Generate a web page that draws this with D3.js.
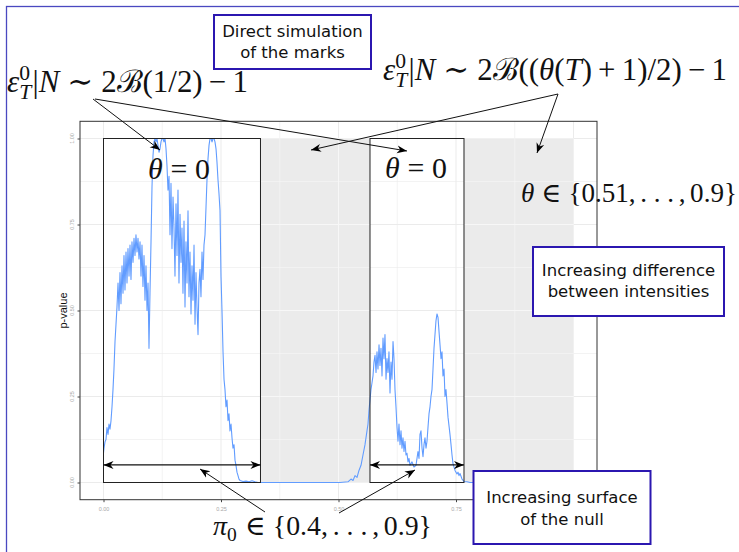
<!DOCTYPE html>
<html>
<head>
<meta charset="utf-8">
<script src="https://cdn.jsdelivr.net/npm/d3@7"></script>
<style>
  body { margin: 0; background: #fff; }
  svg { display: block; }
</style>
</head>
<body>
<svg id="chart" width="739" height="552"></svg>
<script>
// p-value of the test along the scanned position: [position, p-value]
const pvalue = [
  [0, 0.086], [0.0011, 0.10], [0.0032, 0.118], [0.0053, 0.125], [0.0074, 0.16], [0.0096, 0.14],
  [0.0117, 0.17], [0.0138, 0.155], [0.0160, 0.18], [0.0181, 0.22], [0.0202, 0.27], [0.0223, 0.33],
  [0.0245, 0.41], [0.0266, 0.46], [0.0287, 0.51], [0.0309, 0.58], [0.0330, 0.50], [0.0351, 0.61],
  [0.0372, 0.52], [0.0394, 0.63], [0.0415, 0.55], [0.0436, 0.66], [0.0457, 0.56], [0.0479, 0.67],
  [0.0500, 0.58], [0.0521, 0.68], [0.0543, 0.60], [0.0564, 0.69], [0.0585, 0.59], [0.0606, 0.70],
  [0.0628, 0.64], [0.0649, 0.71], [0.0670, 0.66], [0.0691, 0.72], [0.0713, 0.67], [0.0734, 0.71],
  [0.0755, 0.65], [0.0777, 0.70], [0.0798, 0.60], [0.0819, 0.69], [0.0840, 0.57], [0.0862, 0.66],
  [0.0883, 0.53], [0.0904, 0.63], [0.0926, 0.50], [0.0947, 0.58], [0.0968, 0.39], [0.0989, 0.55],
  [0.1011, 0.70], [0.1032, 0.86], [0.1053, 0.95], [0.1074, 0.99], [0.1096, 1.0], [0.1117, 0.99],
  [0.1138, 1.0], [0.1160, 0.98], [0.1181, 0.96], [0.1202, 0.97], [0.1223, 0.99], [0.1245, 1.0],
  [0.1266, 1.0], [0.1287, 0.99], [0.1309, 1.0], [0.1330, 0.97], [0.1351, 0.92], [0.1372, 0.85],
  [0.1394, 0.89], [0.1415, 0.72], [0.1436, 0.87], [0.1457, 0.68], [0.1479, 0.83], [0.1500, 0.74],
  [0.1521, 0.60], [0.1543, 0.81], [0.1564, 0.66], [0.1585, 0.85], [0.1606, 0.58], [0.1628, 0.78],
  [0.1649, 0.64], [0.1670, 0.74], [0.1691, 0.55], [0.1713, 0.76], [0.1734, 0.51], [0.1755, 0.70],
  [0.1777, 0.58], [0.1798, 0.79], [0.1819, 0.54], [0.1840, 0.67], [0.1862, 0.49], [0.1883, 0.63],
  [0.1904, 0.53], [0.1926, 0.69], [0.1947, 0.46], [0.1968, 0.61], [0.1989, 0.51], [0.2011, 0.43],
  [0.2032, 0.58], [0.2053, 0.62], [0.2074, 0.54], [0.2096, 0.67], [0.2117, 0.59], [0.2138, 0.69],
  [0.2160, 0.72], [0.2181, 0.80], [0.2202, 0.88], [0.2223, 0.94], [0.2245, 0.98], [0.2266, 1.0],
  [0.2287, 1.0], [0.2309, 0.99], [0.2330, 1.0], [0.2351, 1.0], [0.2372, 0.99], [0.2394, 0.97],
  [0.2415, 0.93], [0.2436, 0.88], [0.2457, 0.84], [0.2479, 0.79], [0.2500, 0.60], [0.2521, 0.50],
  [0.2543, 0.38], [0.2564, 0.30], [0.2585, 0.27], [0.2606, 0.22], [0.2628, 0.24], [0.2649, 0.18],
  [0.2670, 0.20], [0.2691, 0.15], [0.2713, 0.17], [0.2734, 0.13], [0.2755, 0.10], [0.2777, 0.11],
  [0.2798, 0.065], [0.2819, 0.05], [0.2840, 0.03], [0.2862, 0.02], [0.2883, 0.01], [0.2904, 0.006],
  [0.2968, 0.003], [0.3032, 0.004], [0.3096, 0.002], [0.3160, 0.005], [0.3223, 0.002], [0.3287, 0.0],
  [0.5032, 0.0], [0.5202, 0.002], [0.5266, 0.01], [0.5309, 0.006], [0.5351, 0.02], [0.5394, 0.015],
  [0.5436, 0.035], [0.5479, 0.05], [0.5521, 0.08], [0.5564, 0.11], [0.5606, 0.15], [0.5628, 0.17],
  [0.5649, 0.21], [0.5670, 0.24], [0.5691, 0.27], [0.5713, 0.29], [0.5734, 0.31], [0.5755, 0.35],
  [0.5777, 0.37], [0.5798, 0.32], [0.5819, 0.38], [0.5840, 0.33], [0.5862, 0.40], [0.5883, 0.34],
  [0.5904, 0.39], [0.5926, 0.31], [0.5947, 0.42], [0.5968, 0.36], [0.5989, 0.43], [0.6011, 0.30],
  [0.6032, 0.36], [0.6053, 0.32], [0.6074, 0.38], [0.6096, 0.26], [0.6117, 0.35], [0.6138, 0.30],
  [0.6160, 0.41], [0.6181, 0.36], [0.6202, 0.27], [0.6223, 0.22], [0.6245, 0.16], [0.6266, 0.12],
  [0.6287, 0.17], [0.6309, 0.11], [0.6330, 0.15], [0.6351, 0.10], [0.6372, 0.13], [0.6394, 0.09],
  [0.6415, 0.12], [0.6436, 0.08], [0.6457, 0.085], [0.6479, 0.06], [0.6500, 0.07], [0.6521, 0.05],
  [0.6564, 0.06], [0.6606, 0.045], [0.6649, 0.05], [0.6691, 0.09], [0.6713, 0.07], [0.6734, 0.14],
  [0.6755, 0.15], [0.6777, 0.10], [0.6798, 0.075], [0.6819, 0.11], [0.6840, 0.13], [0.6862, 0.10],
  [0.6883, 0.12], [0.6904, 0.16], [0.6926, 0.20], [0.6947, 0.22], [0.6968, 0.25], [0.6989, 0.27],
  [0.7011, 0.33], [0.7032, 0.39], [0.7053, 0.43], [0.7074, 0.47], [0.7096, 0.49], [0.7117, 0.48],
  [0.7138, 0.44], [0.7160, 0.40], [0.7181, 0.36], [0.7202, 0.38], [0.7223, 0.31], [0.7245, 0.33],
  [0.7266, 0.25], [0.7287, 0.27], [0.7309, 0.23], [0.7330, 0.19], [0.7372, 0.14], [0.7394, 0.11],
  [0.7415, 0.08], [0.7436, 0.055], [0.7479, 0.035], [0.7521, 0.025], [0.7543, 0.03], [0.7564, 0.02],
  [0.7585, 0.026], [0.7628, 0.01], [0.7670, 0.003], [0.7734, 0.002], [0.7798, 0.0], [1.0, 0.0]
];

// windows where the marks follow the null (theta = 0)
const nullIntervals = [[0, 0.334], [0.567, 0.767]];
// height at which the pi0 span arrows are drawn
const spanLevel = 0.051;

const majorTicks = [0, 0.25, 0.5, 0.75, 1];
const minorTicks = [0.125, 0.375, 0.625, 0.875];
const xTickLabels = ["0.00", "0.25", "0.50", "0.75", "1.00"];
const yTickLabels = ["0.00", "0.25", "0.50", "0.75", "1.00"];
const yTitle = "p-value";

const noteSimulation = ["Direct simulation", "of the marks"];
const noteDifference = ["Increasing difference", "between intensities"];
const noteSurface = ["Increasing surface", "of the null"];

const svg = d3.select("#chart");
const W = 739, H = 552;

svg.append("rect").attr("width", W).attr("height", H).attr("fill", "#fff");
// slide frame
svg.append("rect").attr("x", 6.5).attr("y", 6.5).attr("width", 800).attr("height", 700)
  .attr("fill", "none").attr("stroke", "#4a48c0").attr("stroke-width", 1.3);

const defs = svg.append("defs");
defs.append("marker")
  .attr("id", "head").attr("markerUnits", "userSpaceOnUse")
  .attr("markerWidth", 12).attr("markerHeight", 10)
  .attr("refX", 10).attr("refY", 5).attr("orient", "auto-start-reverse")
  .append("path").attr("d", "M0,1 L10,5 L0,9 L3,5 Z").attr("fill", "#000");

// panel
const P = { left: 80, right: 597, top: 121.3, bottom: 499.7 };
const x = d3.scaleLinear().domain([-0.05, 1.05]).range([P.left, P.right]);
const y = d3.scaleLinear().domain([-0.05, 1.05]).range([P.bottom, P.top]);

const panel = svg.append("g");
panel.append("rect").attr("x", P.left).attr("y", P.top)
  .attr("width", P.right - P.left).attr("height", P.bottom - P.top).attr("fill", "#fff");

// shaded region (theta > 0 outside the null windows)
panel.append("rect")
  .attr("x", x(0)).attr("y", y(1)).attr("width", x(1) - x(0)).attr("height", y(0) - y(1))
  .attr("fill", "#ebebeb");
panel.selectAll("rect.nullbg").data(nullIntervals).join("rect").attr("class", "nullbg")
  .attr("x", d => x(d[0])).attr("y", y(1))
  .attr("width", d => x(d[1]) - x(d[0])).attr("height", y(0) - y(1))
  .attr("fill", "#fff");

// clip of the shaded part, where grid lines show lighter
const shaded = [[nullIntervals[0][1], nullIntervals[1][0]], [nullIntervals[1][1], 1]];
const clipShade = defs.append("clipPath").attr("id", "shade");
clipShade.selectAll("rect").data(shaded).join("rect")
  .attr("x", d => x(d[0])).attr("y", y(1))
  .attr("width", d => x(d[1]) - x(d[0])).attr("height", y(0) - y(1));

const gridVals = majorTicks.concat(minorTicks);
function drawGrid(g, colour) {
  g.selectAll("line.v").data(gridVals).join("line").attr("class", "v")
    .attr("x1", d => x(d)).attr("x2", d => x(d)).attr("y1", P.top).attr("y2", P.bottom)
    .attr("stroke", colour).attr("stroke-width", d => minorTicks.includes(d) ? 0.6 : 1);
  g.selectAll("line.h").data(gridVals).join("line").attr("class", "h")
    .attr("y1", d => y(d)).attr("y2", d => y(d)).attr("x1", P.left).attr("x2", P.right)
    .attr("stroke", colour).attr("stroke-width", d => minorTicks.includes(d) ? 0.6 : 1);
}
drawGrid(panel.append("g"), "#ebebeb");
drawGrid(panel.append("g").attr("clip-path", "url(#shade)"), "#f7f7f7");

// p-value curve
panel.append("path").datum(pvalue)
  .attr("d", d3.line().x(d => x(d[0])).y(d => y(d[1])))
  .attr("fill", "none").attr("stroke", "#619cff").attr("stroke-width", 1.1)
  .attr("stroke-linejoin", "round");

// null windows outlines
panel.selectAll("rect.nullbox").data(nullIntervals).join("rect").attr("class", "nullbox")
  .attr("x", d => x(d[0])).attr("y", y(1))
  .attr("width", d => x(d[1]) - x(d[0])).attr("height", y(0) - y(1))
  .attr("fill", "none").attr("stroke", "#222").attr("stroke-width", 1);

// panel border
panel.append("rect").attr("x", P.left).attr("y", P.top)
  .attr("width", P.right - P.left).attr("height", P.bottom - P.top)
  .attr("fill", "none").attr("stroke", "#333").attr("stroke-width", 1);

// axes
const xAxis = panel.append("g").attr("transform", `translate(0,${P.bottom})`)
  .call(d3.axisBottom(x).tickValues(majorTicks).tickSize(2.5).tickPadding(5)
    .tickFormat((d, i) => xTickLabels[i]));
xAxis.select(".domain").remove();
xAxis.selectAll("line").attr("stroke", "#444");
xAxis.selectAll("text").attr("fill", "#a8a8a8").style("font", "5.5px 'Liberation Sans', Arial, sans-serif");

const yAxis = panel.append("g").attr("transform", `translate(${P.left},0)`)
  .call(d3.axisLeft(y).tickValues(majorTicks).tickSize(2.5).tickFormat(""));
yAxis.select(".domain").remove();
yAxis.selectAll("line").attr("stroke", "#444");
panel.selectAll("text.ytl").data(majorTicks).join("text").attr("class", "ytl")
  .attr("transform", d => `translate(72,${y(d)}) rotate(-90)`)
  .attr("text-anchor", "middle").attr("dy", "0.35em")
  .attr("fill", "#a8a8a8").style("font", "5.5px 'Liberation Sans', Arial, sans-serif")
  .text((d, i) => yTickLabels[i]);

panel.append("text")
  .attr("transform", `translate(63.5,${(P.top + P.bottom) / 2}) rotate(-90)`)
  .attr("text-anchor", "middle").attr("dy", "0.35em")
  .attr("fill", "#111").style("font", "11px 'Liberation Sans', Arial, sans-serif")
  .text(yTitle);

// annotations
const ann = svg.append("g");
function arrow(x1, y1, x2, y2, both) {
  const l = ann.append("line").attr("x1", x1).attr("y1", y1).attr("x2", x2).attr("y2", y2)
    .attr("stroke", "#111").attr("stroke-width", 1).attr("marker-end", "url(#head)");
  if (both) l.attr("marker-start", "url(#head)");
  return l;
}
// pi0 spans
nullIntervals.forEach(d => arrow(x(d[0]), y(spanLevel), x(d[1]), y(spanLevel), true).attr("stroke-width", 1.2));
// from the formulas
arrow(93, 99, 160, 150);
arrow(95, 99, 407, 151);
arrow(558, 94, 311, 150);
arrow(558, 94, 537, 153);
// from pi0
arrow(265, 512, 200, 469);
arrow(339, 513, 415, 470);

// maths set in a serif face, scaled to a given width
function math(x0, base, width, parts) {
  const size = 24;
  const g = ann.append("g").style("font-family", "'Liberation Serif', 'DejaVu Serif', serif").attr("fill", "#111");
  let cx = 0;
  parts.forEach(p => {
    if (p.gap !== undefined) { cx += p.gap * size; return; }
    if (p.sup !== undefined || p.sub !== undefined) {
      const s = size * 0.7;
      let w = 0;
      if (p.sup !== undefined) {
        const a = g.append("text").attr("x", cx).attr("y", -0.38 * size).style("font-size", s + "px").text(p.sup);
        w = Math.max(w, a.node().getComputedTextLength());
      }
      if (p.sub !== undefined) {
        const b = g.append("text").attr("x", cx).attr("y", 0.22 * size).style("font-size", s + "px")
          .attr("font-style", p.subI ? "italic" : "normal").text(p.sub);
        w = Math.max(w, b.node().getComputedTextLength());
      }
      cx += w + 0.04 * size;
      return;
    }
    const t = g.append("text").attr("x", cx).attr("y", 0).style("font-size", size + "px")
      .attr("font-style", p.i ? "italic" : "normal").text(p.t);
    cx += t.node().getComputedTextLength();
  });
  const k = width / cx;
  g.attr("transform", `translate(${x0},${base}) scale(${k})`);
}
const REL = 0.26, BIN = 0.2;
math(7, 92, 241, [
  { t: "ε", i: 1 }, { sup: "0", sub: "T", subI: 1 }, { t: "|" }, { t: "N", i: 1 },
  { gap: REL }, { t: "∼" }, { gap: REL }, { t: "2" }, { t: "ℬ" }, { t: "(1/2)" },
  { gap: BIN }, { t: "−" }, { gap: BIN }, { t: "1" }
]);
math(383, 80, 344, [
  { t: "ε", i: 1 }, { sup: "0", sub: "T", subI: 1 }, { t: "|" }, { t: "N", i: 1 },
  { gap: REL }, { t: "∼" }, { gap: REL }, { t: "2" }, { t: "ℬ" }, { t: "((" }, { t: "θ", i: 1 },
  { t: "(" }, { t: "T", i: 1 }, { t: ")" }, { gap: BIN }, { t: "+" }, { gap: BIN }, { t: "1)/2)" },
  { gap: BIN }, { t: "−" }, { gap: BIN }, { t: "1" }
]);
const thetaNull = [{ t: "θ", i: 1 }, { gap: REL }, { t: "=" }, { gap: REL }, { t: "0" }];
math(148, 179, 62, thetaNull);
math(385, 178, 62, thetaNull);
math(521, 202, 216, [
  { t: "θ", i: 1 }, { gap: REL }, { t: "∈" }, { gap: REL }, { t: "{0.51," }, { gap: 0.17 },
  { t: ". . ." }, { gap: 0.17 }, { t: "," }, { gap: 0.17 }, { t: "0.9}" }
]);
math(213, 535, 219, [
  { t: "π", i: 1 }, { sub: "0" }, { gap: REL }, { t: "∈" }, { gap: REL }, { t: "{0.4," }, { gap: 0.17 },
  { t: ". . ." }, { gap: 0.17 }, { t: "," }, { gap: 0.17 }, { t: "0.9}" }
]);

// framed notes
function note(bx, by, bw, bh, lines, base1, base2) {
  ann.append("rect").attr("x", bx).attr("y", by).attr("width", bw).attr("height", bh)
    .attr("fill", "#fff").attr("stroke", "#2b17b0").attr("stroke-width", 2);
  [base1, base2].forEach((b, i) => ann.append("text")
    .attr("x", bx + bw / 2).attr("y", b).attr("text-anchor", "middle")
    .attr("fill", "#111").style("font", "16.5px 'DejaVu Sans', sans-serif").text(lines[i]));
}
note(214, 15, 157, 54, noteSimulation, 37, 58);
note(533, 247, 191, 69, noteDifference, 276, 297);
note(473.5, 471, 177, 73, noteSurface, 503, 525);
</script>
</body>
</html>
